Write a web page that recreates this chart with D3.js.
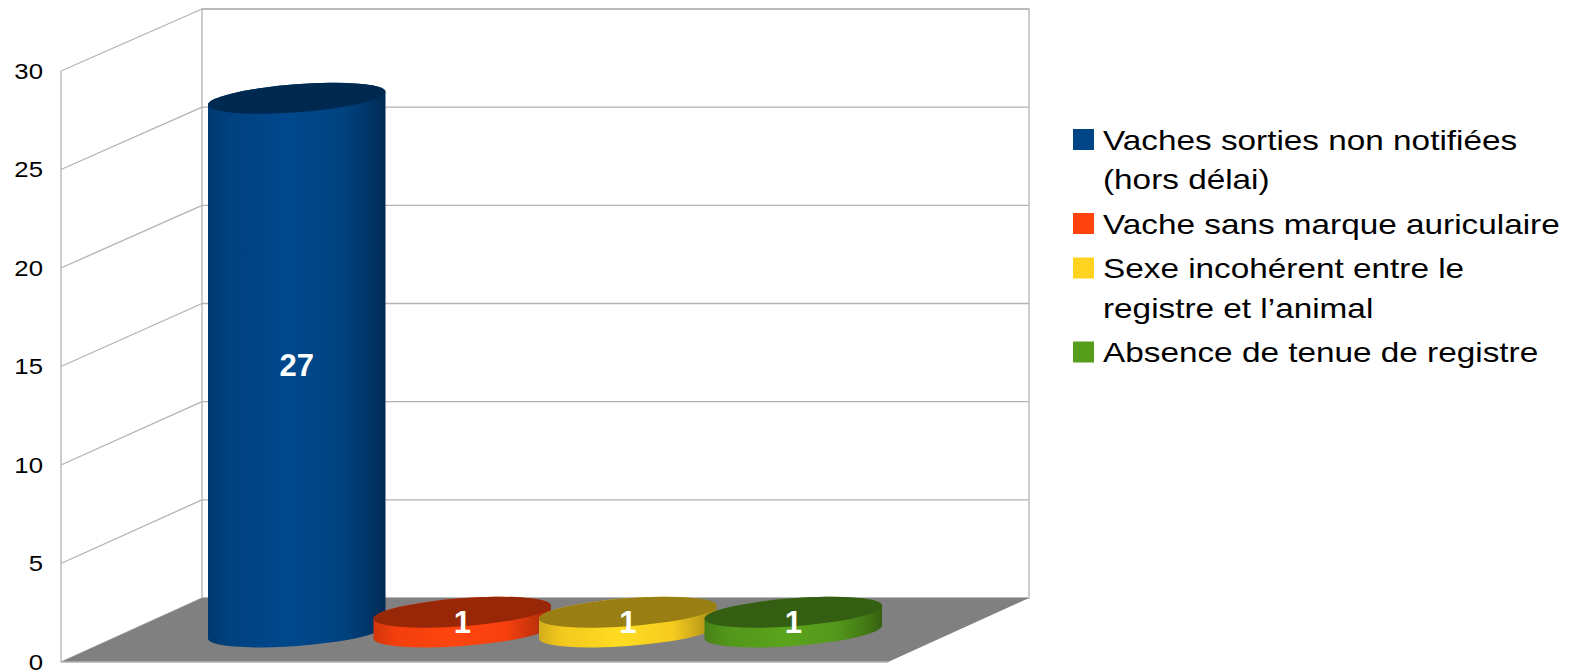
<!DOCTYPE html>
<html>
<head>
<meta charset="utf-8">
<script src="https://cdn.jsdelivr.net/npm/d3@7"></script>
<style>
  body { margin: 0; background: #fff; }
  text { font-family: "Liberation Sans", Arial, sans-serif; }
</style>
</head>
<body>
<div id="chart"></div>
<script>
// data
let categories = [
    "Vaches sorties non notifiées\n(hors délai)",
    "Vache sans marque auriculaire",
    "Sexe incohérent entre le\nregistre et l’animal",
    "Absence de tenue de registre"
];
let values = [27, 1, 1, 1];
let colors = ["#004586", "#ff420e", "#ffd320", "#579d1c"];
let yTicks = [0, 5, 10, 15, 20, 25, 30];

let w = 1576, h = 672;

let svg = d3.select("#chart")
    .append("svg")
    .attr("width", w)
    .attr("height", h);

let defs = svg.append("defs");

// the 3d box: back wall, left wall, floor
let backX = [202, 1029], frontX = [61, 888];
let yBack = d3.scaleLinear().domain([0, 30]).range([598, 9]);
let yFront = d3.scaleLinear().domain([0, 30]).range([662, 71]);
let yBar = d3.scaleLinear().domain([0, 30]).range([632, 39]);

let x = d3.scaleBand()
    .domain(categories)
    .range([214, 876]);

let grid = "#b3b3b3";

// back wall
svg.append("rect")
    .attr("x", backX[0]).attr("y", yBack(30))
    .attr("width", backX[1] - backX[0])
    .attr("height", yBack(0) - yBack(30))
    .attr("fill", "#fff")
    .attr("stroke", grid)
    .attr("stroke-width", 1.3);

svg.selectAll(".hgrid")
    .data(yTicks)
    .enter()
    .append("line")
    .attr("class", "hgrid")
    .attr("x1", backX[0]).attr("x2", backX[1])
    .attr("y1", d => yBack(d)).attr("y2", d => yBack(d))
    .attr("stroke", grid)
    .attr("stroke-width", 1.3);

// left wall
svg.selectAll(".sgrid")
    .data(yTicks)
    .enter()
    .append("line")
    .attr("class", "sgrid")
    .attr("x1", frontX[0]).attr("x2", backX[0])
    .attr("y1", d => yFront(d)).attr("y2", d => yBack(d))
    .attr("stroke", grid)
    .attr("stroke-width", 1.3);

svg.append("line")
    .attr("x1", frontX[0]).attr("x2", frontX[0])
    .attr("y1", yFront(30)).attr("y2", yFront(0))
    .attr("stroke", grid)
    .attr("stroke-width", 1.3);

// floor
svg.append("path")
    .attr("d", "M" + backX[0] + "," + yBack(0) +
        "L" + backX[1] + "," + yBack(0) +
        "L" + frontX[1] + "," + yFront(0) +
        "L" + frontX[0] + "," + yFront(0) + "Z")
    .attr("fill", "#808080");

svg.append("line")
    .attr("x1", frontX[0]).attr("x2", frontX[1])
    .attr("y1", yFront(0)).attr("y2", yFront(0))
    .attr("stroke", grid)
    .attr("stroke-width", 1.3);

// y labels (the source text is a bit stretched sideways)
svg.selectAll(".ylab")
    .data(yTicks)
    .enter()
    .append("text")
    .attr("class", "ylab")
    .attr("transform", d => "translate(43," + yFront(d) + ") scale(1.17,1)")
    .attr("dy", "0.36em")
    .attr("text-anchor", "end")
    .style("font-size", "22px")
    .style("fill", "#000")
    .text(d => d);

// cylinders
let rx = 89, ry = 14, rot = -4.3;
let ca = Math.cos(rot * Math.PI / 180), sa = Math.sin(rot * Math.PI / 180);

function ends(cx, cy) {
    return [[cx - rx * ca, cy - rx * sa], [cx + rx * ca, cy + rx * sa]];
}

values.forEach(function (v, i) {
    let c = d3.color(colors[i]);
    let g = defs.append("linearGradient")
        .attr("id", "side" + i)
        .attr("x1", 0).attr("x2", 1).attr("y1", 0).attr("y2", 0);
    let stops = [
        [0, c.darker(0.55)],
        [0.12, c.darker(0.15)],
        [0.45, c.brighter(0.12)],
        [0.75, c.darker(0.1)],
        [0.92, c.darker(0.8)],
        [1, c.darker(1.4)]
    ];
    stops.forEach(function (s) {
        g.append("stop").attr("offset", s[0]).attr("stop-color", s[1]);
    });

    let cx = x(categories[i]) + x.bandwidth() / 2;
    let top = ends(cx, yBar(v)), bot = ends(cx, yBar(0));
    let arc = "A" + rx + "," + ry + " " + rot + " 0 0 ";

    svg.append("path")
        .attr("d", "M" + top[0] + "L" + bot[0] + arc + bot[1] + "L" + top[1] + arc + top[0] + "Z")
        .attr("fill", "url(#side" + i + ")");

    svg.append("ellipse")
        .attr("transform", "translate(" + cx + "," + yBar(v) + ") rotate(" + rot + ")")
        .attr("rx", rx).attr("ry", ry)
        .attr("fill", c.darker(1.45));

    svg.append("text")
        .attr("x", cx)
        .attr("y", yBar(v / 2))
        .attr("dy", "0.36em")
        .attr("text-anchor", "middle")
        .style("font-size", "31px")
        .style("font-weight", "bold")
        .style("fill", "#fff")
        .text(v);
});

// legend
let lineH = 39.5, gap = 5;
let ly = 139.5;
let legend = svg.append("g");
categories.forEach(function (name, i) {
    let lines = name.split("\n");
    let item = legend.append("g").attr("transform", "translate(1073," + ly + ")");
    item.append("rect")
        .attr("x", 0).attr("y", -10.5)
        .attr("width", 21).attr("height", 21)
        .attr("fill", colors[i]);
    item.selectAll("text")
        .data(lines)
        .enter()
        .append("text")
        .attr("transform", (d, j) => "translate(30," + (j * lineH) + ") scale(1.19,1)")
        .attr("dy", "0.36em")
        .style("font-size", "28px")
        .style("fill", "#000")
        .text(d => d);
    ly += lines.length * lineH + gap;
});
</script>
</body>
</html>
